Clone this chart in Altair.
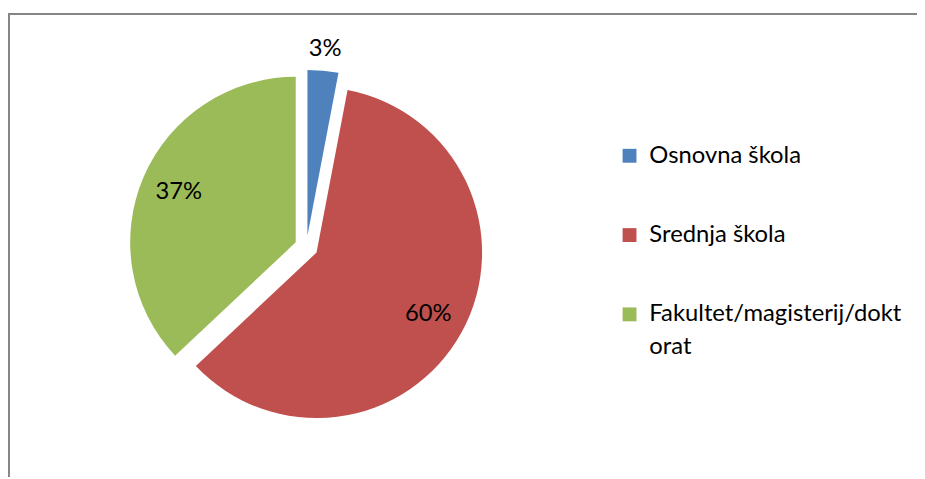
import altair as alt
import pandas as pd

categories = ["Osnovna škola", "Srednja škola", "Fakultet/magisterij/doktorat"]
values = [3, 60, 37]
order = [1, 2, 3]
colors = ["#4F81BD", "#C0504D", "#9BBB59"]

df = pd.DataFrame({"category": categories, "value": values, "order": order})

CX, CY, R, EXPLODE = 301, 239, 167, 11.7
FONT = "Lato"
FS = 24

base = alt.Chart(df).transform_joinaggregate(
    total="sum(value)"
).transform_window(
    cum="sum(value)", sort=[alt.SortField("order")], frame=[None, 0]
).transform_calculate(
    start="(datum.cum - datum.value) / datum.total * 2 * PI",
    end="datum.cum / datum.total * 2 * PI",
).transform_calculate(
    mid="(datum.start + datum.end) / 2",
).transform_calculate(
    cx=f"{CX} + {EXPLODE} * sin(datum.mid)",
    cy=f"{CY} - {EXPLODE} * cos(datum.mid)",
    lr=f"datum.value / datum.total < 0.05 ? {R + 22} : {R * 0.77}",
    pct="format(datum.value / datum.total, '.0%')",
).transform_calculate(
    lx="datum.cx + datum.lr * sin(datum.mid)",
    ly="datum.cy - datum.lr * cos(datum.mid)",
)

color = alt.Color(
    "category:N",
    scale=alt.Scale(domain=categories, range=colors),
    sort=categories,
    legend=alt.Legend(
        title=None,
        orient="none",
        legendX=615,
        legendY=135,
        symbolType="square",
        symbolSize=196,
        symbolStrokeWidth=0,
        labelFont=FONT,
        labelFontSize=FS,
        labelLimit=400,
        labelOffset=8,
        rowPadding=56,
        labelExpr="datum.label == 'Fakultet/magisterij/doktorat' ? ['Fakultet/magisterij/dokt', 'orat'] : datum.label",
    ),
)

arcs = base.mark_arc(radius=R, stroke=None).encode(
    x=alt.X("cx:Q", scale=None),
    y=alt.Y("cy:Q", scale=None),
    theta=alt.Theta("start:Q", scale=None),
    theta2="end:Q",
    color=color,
)

labels = base.mark_text(font=FONT, fontSize=FS, color="black").encode(
    x=alt.X("lx:Q", scale=None),
    y=alt.Y("ly:Q", scale=None),
    text="pct:N",
)

border_df = pd.DataFrame({"k": [0]})
top_rule = alt.Chart(border_df).mark_rule(color="#868686", strokeWidth=2).encode(
    x=alt.value(0), x2=alt.value(917), y=alt.value(4)
)
left_rule = alt.Chart(border_df).mark_rule(color="#868686", strokeWidth=2).encode(
    x=alt.value(1), y=alt.value(4), y2=alt.value(471)
)

chart = alt.layer(arcs, labels, top_rule, left_rule).properties(
    width=917, height=471, autosize=alt.AutoSizeParams(type="none"), padding=0
).configure(
    style={"guide-label": {"lineHeight": 33}},
    view=alt.ViewConfig(stroke=None),
)

chart.save("out.html", embed_options={"renderer": "svg", "actions": False})
